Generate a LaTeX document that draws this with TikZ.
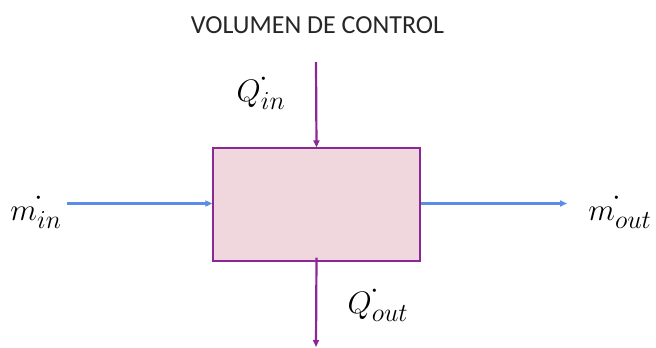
\documentclass[tikz,border=0pt]{standalone}
\usepackage{fontspec}
\setsansfont{Carlito}
\usetikzlibrary{arrows.meta}
\definecolor{flowblue}{RGB}{91,141,230}
\definecolor{heatpurple}{RGB}{140,40,150}
\definecolor{boxfill}{RGB}{240,215,222}
\newcommand{\rdot}{\raisebox{0.12em}{$\cdot$}}
\begin{document}
\begin{tikzpicture}[x=1pt,y=-1pt,
  mflow/.style={draw=flowblue,line width=2.2pt,-{Triangle[length=7pt,width=6pt]}},
  qflow/.style={draw=heatpurple,line width=2.2pt,-{Triangle[length=7pt,width=6pt]}},
  lbl/.style={font=\fontsize{24.88}{28}\selectfont,inner sep=0pt,scale=1.25}]
\useasboundingbox (0,0) rectangle (656,348);
\node[font=\sffamily\fontsize{26}{30}\selectfont,text=black!85] (title) at (317.5,25) {VOLUMEN DE CONTROL};
\node[draw=heatpurple,fill=boxfill,line width=1.3pt,minimum width=207pt,minimum height=113pt,inner sep=0pt] (cv) at (316.5,204.5) {};
\coordinate (qin) at (316,62);
\coordinate (qout) at (316,347);
\coordinate (min) at (67,203.5);
\coordinate (mout) at (567,203.5);
\draw[qflow] (qin) -- (cv.north);
\draw[qflow] ([yshift=4pt]cv.south) -- (qout);
\draw[mflow] (min) -- (cv.west |- min);
\draw[mflow] (cv.east |- mout) -- (mout);
\node[lbl] (lqin) at (261,91) {$Q^{\mkern-1mu\rdot}_{in}$};
\node[lbl] (lqout) at (378,303) {$Q^{\mkern-1mu\rdot}_{out}$};
\node[lbl] (lmin) at (36,210) {$m^{\mkern-2mu\rdot}_{in}$};
\node[lbl] (lmout) at (620,210) {$m^{\mkern-2mu\rdot}_{out}$};
\end{tikzpicture}
\end{document}
